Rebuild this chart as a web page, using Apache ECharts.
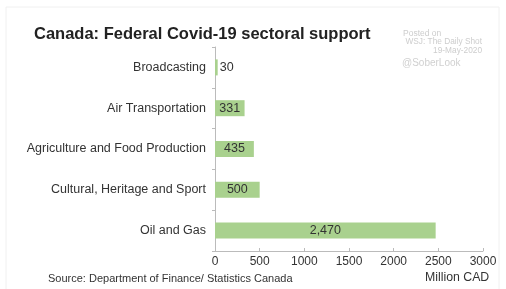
<!DOCTYPE html>
<html>
<head>
<meta charset="utf-8">
<script src="https://cdn.jsdelivr.net/npm/echarts@6/dist/echarts.min.js"></script>
<style>
  html, body { margin: 0; padding: 0; background: #fff; }
  #main { width: 506px; height: 289px; }
</style>
</head>
<body>
<div id="main"></div>
<script>
// data (bottom-to-top order for the category axis)
var sectors = ['Oil and Gas', 'Cultural, Heritage and Sport', 'Agriculture and Food Production',
               'Air Transportation', 'Broadcasting'];
var support = [2470, 500, 435, 331, 30];
var xTicks = [0, 500, 1000, 1500, 2000, 2500, 3000];

var chartDom = document.getElementById('main');
var box = echarts.init(chartDom);
var font = 'Liberation Sans, Arial, sans-serif';

var barData = support.map(function (v) {
  var d = { value: v };
  // tiny bar: label sits outside
  if (v < 100) d.label = { position: 'right', distance: 2 };
  return d;
});

var option = {
  animation: false,
  backgroundColor: '#fff',
  title: {
    text: 'Canada: Federal Covid-19 sectoral support',
    left: 29, top: 21,
    textStyle: { fontFamily: font, fontSize: 16.5, fontWeight: 'bold', color: '#222' }
  },
  graphic: [
    { type: 'rect', shape: { x: 6, y: 7, width: 493, height: 290 },
      style: { fill: 'none', stroke: '#f0f0f0', lineWidth: 1 }, silent: true },
    { type: 'text', left: 403, top: 29,
      style: { text: 'Posted on', font: '8.5px ' + font, fill: '#cdcdcd' } },
    { type: 'text', right: 24, top: 38,
      style: { text: 'WSJ: The Daily Shot', font: '8.3px ' + font, fill: '#cdcdcd' } },
    { type: 'text', right: 24, top: 47,
      style: { text: '19-May-2020', font: '8.3px ' + font, fill: '#cdcdcd' } },
    { type: 'text', left: 402, top: 58,
      style: { text: '@SoberLook', font: '10px ' + font, fill: '#d0d0d0' } },
    { type: 'text', left: 48, top: 273,
      style: { text: 'Source: Department of Finance/ Statistics Canada', font: '11px ' + font, fill: '#333' } },
    { type: 'text', left: 425, top: 272,
      style: { text: 'Million CAD', font: '12.3px ' + font, fill: '#333' } }
  ],
  grid: { left: 215, right: 23, top: 47, bottom: 38, containLabel: false },
  xAxis: {
    type: 'value',
    min: xTicks[0], max: xTicks[xTicks.length - 1], interval: 500,
    axisLine: { show: true, lineStyle: { color: '#bbb' } },
    axisTick: { show: true, inside: true, length: 3, lineStyle: { color: '#bbb' } },
    splitLine: { show: false },
    axisLabel: { fontFamily: font, fontSize: 12, color: '#333', margin: 5,
                 formatter: function (v) { return String(v); } }
  },
  yAxis: {
    type: 'category',
    data: sectors,
    axisLine: { show: true, lineStyle: { color: '#bbb' } },
    axisTick: { show: true, length: 3, lineStyle: { color: '#bbb' } },
    axisLabel: { fontFamily: font, fontSize: 12.5, color: '#333', margin: 9 }
  },
  series: [{
    type: 'bar',
    data: barData,
    barWidth: 16,
    itemStyle: { color: '#a9d18e' },
    label: {
      show: true, position: 'inside',
      fontFamily: font, fontSize: 12.5, color: '#333',
      formatter: function (p) { return p.value.toLocaleString('en-US'); }
    }
  }]
};

box.setOption(option);
</script>
</body>
</html>
